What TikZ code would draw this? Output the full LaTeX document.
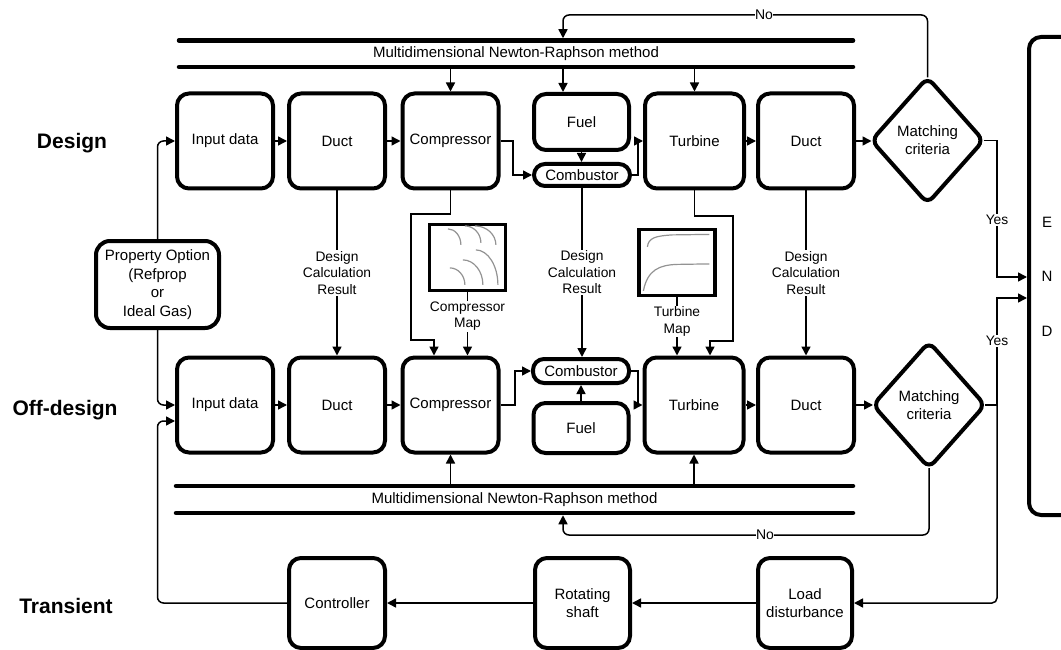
\documentclass[tikz,border=0pt]{standalone}
\usepackage{fontspec}
\setmainfont{Liberation Sans}
\usetikzlibrary{shapes.geometric,arrows.meta,calc}
\begin{document}
\begin{tikzpicture}[x=1pt,y=-1pt,
  blk/.style={draw, line width=4pt, rounded corners=12pt, minimum width=96pt, minimum height=95pt, align=center, inner sep=1pt, font=\fontsize{15}{18.5}\selectfont},
  comb/.style={draw, line width=4pt, rounded corners=11pt, minimum width=96pt, minimum height=22pt, inner sep=0pt, font=\fontsize{15}{18.5}\selectfont},
  dia/.style={draw, diamond, aspect=0.9, line width=4pt, rounded corners=8pt, outer sep=0pt, inner sep=0pt, minimum width=112pt, minimum height=126pt, align=center, font=\fontsize{15}{18}\selectfont},
  mapbox/.style={draw, line width=3.2pt, minimum width=76pt, minimum height=66pt, inner sep=0pt},
  mapc/.style={draw=gray!85, line width=1.2pt},
  conn/.style={line width=1.5pt, -{Triangle[length=9pt,width=9pt]}},
  plain/.style={line width=1.5pt},
  bar/.style={line width=4.5pt, line cap=round},
  nrtxt/.style={inner sep=0pt, outer sep=0pt, font=\fontsize{15}{18}\selectfont},
  small/.style={align=center, inner sep=1pt, fill=white, font=\fontsize{13.8}{16.5}\selectfont},
  side/.style={font=\fontsize{21}{24}\selectfont\bfseries},
  letter/.style={font=\fontsize{15}{18}\selectfont}
]
\useasboundingbox (0,0) rectangle (1061,650);
\clip (0,0) rectangle (1061,650);

% side labels
\node[side] (lD) at (72,143) {Design};
\node[side] (lO) at (65,410) {Off-design};
\node[side] (lT) at (66,606) {Transient};

% Newton-Raphson bars
\node[nrtxt, minimum width=674pt, minimum height=26.5pt] (nrD) at (516,53.75) {Multidimensional Newton-Raphson method};
\node[nrtxt, minimum width=677pt, minimum height=27pt] (nrO) at (514.5,499.5) {Multidimensional Newton-Raphson method};
\draw[bar] (nrD.north west) -- (nrD.north east);
\draw[bar] (nrD.south west) -- (nrD.south east);
\draw[bar] (nrO.north west) -- (nrO.north east);
\draw[bar] (nrO.south west) -- (nrO.south east);

% design row
\node[blk] (inD) at (225,141) {Input data};
\node[blk] (ductD) at (337,141) {Duct};
\node[blk] (compD) at (450.5,141) {Compressor};
\node[blk, minimum width=95pt, minimum height=56pt] (fuelD) at (581.5,122) {Fuel};
\node[comb] (combD) at (582,175) {Combustor};
\node[blk, minimum width=99pt] (turbD) at (694.5,141) {Turbine};
\node[blk] (duct2D) at (806,141) {Duct};
\node[dia] (diaD) at (927.5,140.5) {Matching\\criteria};

% off-design row
\node[blk] (inO) at (225,405) {Input data};
\node[blk] (ductO) at (337,405) {Duct};
\node[blk] (compO) at (450.5,405) {Compressor};
\node[comb, minimum height=24pt] (combO) at (581,371) {Combustor};
\node[blk, minimum width=95pt, minimum height=50pt] (fuelO) at (581,428) {Fuel};
\node[blk, minimum width=99pt] (turbO) at (694,405) {Turbine};
\node[blk] (duct2O) at (806,405) {Duct};
\node[dia] (diaO) at (929,405) {Matching\\criteria};

% transient row
\node[blk, minimum height=90pt] (ctrl) at (337,603) {Controller};
\node[blk, minimum height=90pt, minimum width=95pt] (rot) at (582.5,603) {Rotating\\shaft};
\node[blk, minimum height=90pt, minimum width=94pt] (load) at (805,603) {Load\\disturbance};

% property option
\node[blk, minimum width=123pt, minimum height=87pt, rounded corners=14pt] (prop) at (157.5,284.5) {Property Option\\(Refprop\\or\\Ideal Gas)};

% END box
\node[draw, line width=4pt, rounded corners=12pt, minimum width=70pt, minimum height=478pt] (endbox) at (1064,276) {};
\node[letter] (lE) at (1047,222) {E};
\node[letter] (lN) at (1047,276) {N};
\node[letter] (lDD) at (1047,331) {D};

% maps
\node[mapbox] (cmap) at (467.5,257.5) {};
\node[mapbox] (tmap) at (677,262.5) {};
\begin{scope}[shift={(cmap.north west)}]
  \draw[mapc] (20,6) .. controls (27.2,6) and (33,13.2) .. (33,22);
  \draw[mapc] (37,3) .. controls (45.8,3) and (53,10.7) .. (53,20);
  \draw[mapc] (47,3) .. controls (58.5,3) and (68,11.5) .. (68,22);
  \draw[mapc] (48,27) .. controls (60,27) and (70,42.8) .. (70,62);
  \draw[mapc] (35,37) .. controls (46,37) and (55,48.2) .. (55,62);
  \draw[mapc] (22,45) .. controls (30.2,45) and (37,52.6) .. (37,62);
\end{scope}
\begin{scope}[shift={(tmap.north west)}]
  \draw[mapc] (10,19) .. controls (11,10) and (18,8) .. (35,7) -- (72,6.5);
  \draw[mapc] (6,63) .. controls (10,42) and (22,37) .. (40,36.5) -- (72,36);
\end{scope}

% coordinates
\coordinate (fx) at (563,0);
\coordinate (noTop) at (927.5,15);
\coordinate (noBot) at (929,535);
\coordinate (yT) at (997,277);
\coordinate (yO) at (997,298);
\coordinate (cc1) at (411,214);
\coordinate (cc2) at (434,340);
\coordinate (tt1) at (733,216);
\coordinate (tt2) at (710,341);
\coordinate (cl) at (157.5,421);

% design connectors
\draw[conn, rounded corners=6pt] (prop.north) |- (inD.west);
\draw[conn] (inD.east) -- (ductD.west);
\draw[conn] (ductD.east) -- (compD.west);
\draw[conn] (compD.east) -- ++(12.5,0) |- (combD.west);
\draw[conn] (fuelD.south) -- (fuelD.south |- combD.north);
\draw[conn] (combD.east) -- ++(6,0) |- (turbD.west);
\draw[conn] (turbD.east) -- (duct2D.west);
\draw[conn] (duct2D.east) -- (duct2D.east -| diaD.west);
\draw[conn] (nrD.south -| compD.north) -- (compD.north);
\draw[conn] (nrD.south -| fx) -- (fx |- fuelD.north);
\draw[conn] (nrD.south -| turbD.north) -- (turbD.north);
\draw[conn, rounded corners=6pt] (diaD.north) -- (noTop) -| ([yshift=2.25pt]nrD.north -| fx);
\node[small, fill=white, inner sep=0.5pt, font=\fontsize{14}{16}\selectfont] (noT) at (764,15) {No};
\draw[conn] (diaD.east) -| (yT) -- (yT -| endbox.west);
\node[small] (yesT) at (997,220) {Yes};

% design -> off-design
\draw[conn] (ductD.south) -- (ductO.north) node[small, midway] (dcr1) {Design\\Calculation\\Result};
\draw[conn] (combD.south) -- (combD.south |- combO.north) node[small, midway] (dcr2) {Design\\Calculation\\Result};
\draw[conn] (duct2D.south) -- (duct2O.north) node[small, midway] (dcr3) {Design\\Calculation\\Result};
\draw[conn] (compD.south) |- (cc1) |- (cc2) -- (cc2 |- compO.north);
\draw[conn] (turbD.south) |- (tt1) |- (tt2) -- (tt2 |- turbO.north);
\draw[conn] (cmap.south) -- (cmap.south |- compO.north) node[small, pos=0.38] (cml) {Compressor\\Map};
\draw[conn] (tmap.south) -- (tmap.south |- turbO.north) node[small, pos=0.42] (tml) {Turbine\\Map};

% off-design connectors
\draw[conn, rounded corners=6pt] (prop.south) |- (inO.west);
\draw[conn] (inO.east) -- (ductO.west);
\draw[conn] (ductO.east) -- (compO.west);
\draw[conn] (compO.east) -- ++(14.5,0) |- (combO.west);
\draw[conn] (fuelO.north) -- (combO.south);
\draw[conn] (combO.east) -- ++(7,0) |- (turbO.west);
\draw[conn] (turbO.east) -- (duct2O.west);
\draw[conn] (duct2O.east) -- (diaO.west);
\draw[conn] (nrO.north -| compO.south) -- (compO.south);
\draw[conn] (nrO.north -| turbO.south) -- (turbO.south);
\draw[conn, rounded corners=6pt] (diaO.south) -- (noBot) -| ([yshift=-2.25pt]nrO.south -| fx);
\node[small, fill=white, inner sep=0.5pt, font=\fontsize{14}{16}\selectfont] (noB) at (765,535) {No};
\draw[conn] (diaO.east) -| (yO) -- (yO -| endbox.west);
\draw[conn, rounded corners=5pt] (diaO.east -| yO) |- (load.east);
\node[small] (yesO) at (997,341) {Yes};

% transient connectors
\draw[conn] (load.west) -- (rot.east);
\draw[conn] (rot.west) -- (ctrl.east);
\draw[conn, rounded corners=6pt] (ctrl.west) -| (cl) -- (cl -| inO.west);
\end{tikzpicture}
\end{document}
